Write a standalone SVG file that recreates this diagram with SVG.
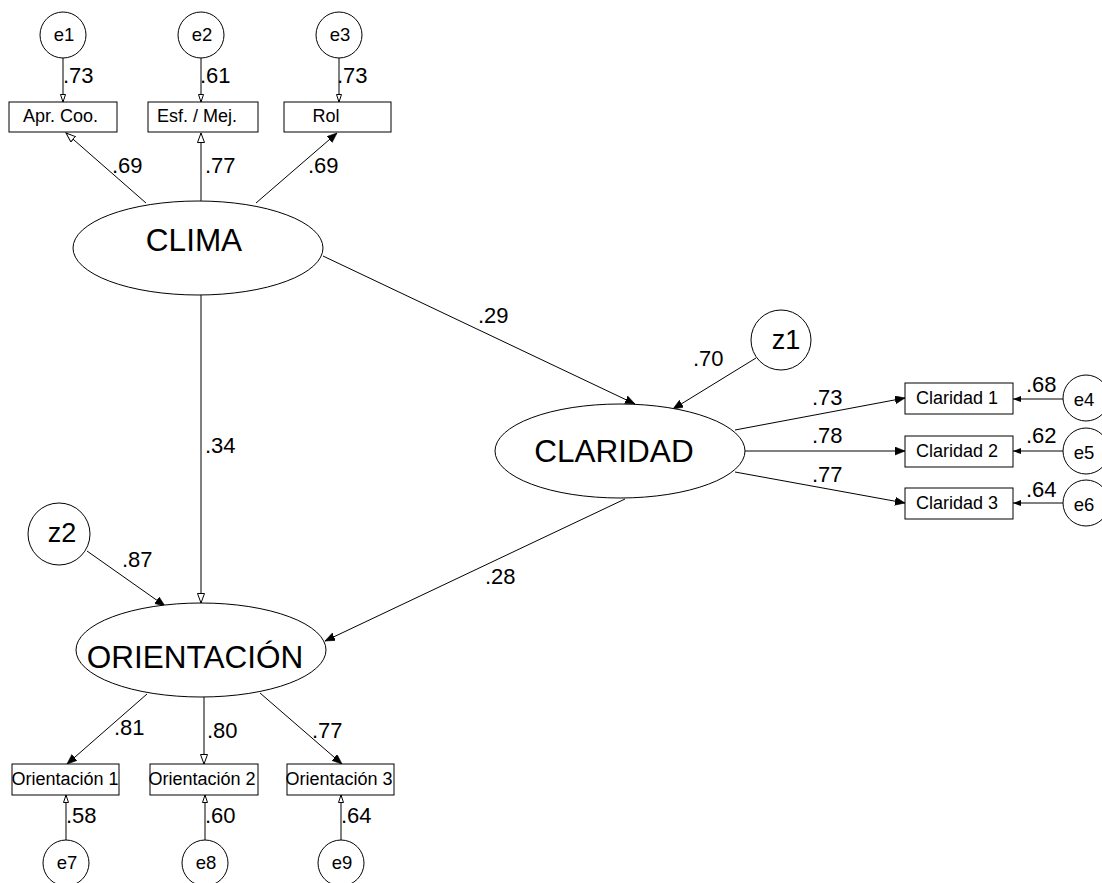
<svg xmlns="http://www.w3.org/2000/svg" width="1102" height="883" viewBox="0 0 1102 883">
  <style>
    .shape { fill: #fff; stroke: #000; stroke-width: 1; }
    .edge { fill: none; stroke: #000; stroke-width: 1; }
    text { font-family: "Liberation Sans", Arial, sans-serif; fill: #000; }
    .latent { font-size: 31.5px; text-anchor: middle; }
    .obs { font-size: 18px; text-anchor: middle; }
    .err { font-size: 18.5px; text-anchor: middle; }
    .dist { font-size: 27px; text-anchor: middle; }
    .coef { font-size: 22px; }
  </style>
  <defs>
    <marker id="solid" markerUnits="userSpaceOnUse" markerWidth="12" markerHeight="10" refX="10" refY="4" orient="auto">
      <path d="M0,0 L10,4 L0,8 z" fill="#000" stroke="#000" stroke-width="0.6"/>
    </marker>
    <marker id="open" markerUnits="userSpaceOnUse" markerWidth="12" markerHeight="10" refX="10" refY="4" orient="auto">
      <path d="M0.5,0.5 L10,4 L0.5,7.5 z" fill="#fff" stroke="#000" stroke-width="1"/>
    </marker>
    <marker id="small" markerUnits="userSpaceOnUse" markerWidth="10" markerHeight="8" refX="8" refY="3" orient="auto">
      <path d="M0.5,0.5 L8,3 L0.5,5.5 z" fill="#fff" stroke="#000" stroke-width="1"/>
    </marker>
    <marker id="smallSolid" markerUnits="userSpaceOnUse" markerWidth="10" markerHeight="8" refX="8" refY="3" orient="auto">
      <path d="M0,0 L8,3 L0,6 z" fill="#000"/>
    </marker>
  </defs>
  <rect width="1102" height="883" fill="#fff"/>

  <!-- connectors -->
  <g id="connectors">
    <!-- errors onto CLIMA indicators -->
    <line class="edge" x1="63" y1="58" x2="63" y2="102" marker-end="url(#small)"/>
    <line class="edge" x1="201" y1="58" x2="201" y2="102" marker-end="url(#small)"/>
    <line class="edge" x1="339" y1="58" x2="339" y2="102" marker-end="url(#small)"/>
    <!-- CLIMA loadings -->
    <line class="edge" x1="146" y1="203" x2="66" y2="133" marker-end="url(#open)"/>
    <line class="edge" x1="201" y1="201" x2="201" y2="133" marker-end="url(#open)"/>
    <line class="edge" x1="256" y1="203" x2="337" y2="133" marker-end="url(#solid)"/>
    <!-- structural paths -->
    <line class="edge" x1="323" y1="256" x2="635" y2="404" marker-end="url(#solid)"/>
    <line class="edge" x1="201" y1="295" x2="201" y2="603" marker-end="url(#open)"/>
    <line class="edge" x1="625" y1="499" x2="325" y2="641" marker-end="url(#solid)"/>
    <!-- disturbances -->
    <line class="edge" x1="756" y1="358" x2="673" y2="409" marker-end="url(#solid)"/>
    <line class="edge" x1="87" y1="551" x2="165" y2="606" marker-end="url(#solid)"/>
    <!-- CLARIDAD loadings -->
    <line class="edge" x1="735" y1="430" x2="905" y2="398" marker-end="url(#solid)"/>
    <line class="edge" x1="745" y1="451" x2="905" y2="451" marker-end="url(#solid)"/>
    <line class="edge" x1="735" y1="472" x2="905" y2="503" marker-end="url(#solid)"/>
    <!-- errors onto CLARIDAD indicators -->
    <line class="edge" x1="1063" y1="399" x2="1013" y2="399" marker-end="url(#smallSolid)"/>
    <line class="edge" x1="1063" y1="451" x2="1013" y2="451" marker-end="url(#smallSolid)"/>
    <line class="edge" x1="1063" y1="503" x2="1013" y2="503" marker-end="url(#smallSolid)"/>
    <!-- ORIENTACIÓN loadings -->
    <line class="edge" x1="147" y1="694" x2="67" y2="764" marker-end="url(#solid)"/>
    <line class="edge" x1="204" y1="697" x2="204" y2="764" marker-end="url(#open)"/>
    <line class="edge" x1="260" y1="693" x2="342" y2="764" marker-end="url(#solid)"/>
    <!-- errors onto ORIENTACIÓN indicators -->
    <line class="edge" x1="66" y1="840" x2="66" y2="795" marker-end="url(#small)"/>
    <line class="edge" x1="205" y1="840" x2="205" y2="795" marker-end="url(#small)"/>
    <line class="edge" x1="341" y1="840" x2="341" y2="795" marker-end="url(#small)"/>

    <!-- coefficients -->
    <text class="coef" x="63" y="83">.73</text>
    <text class="coef" x="200" y="83">.61</text>
    <text class="coef" x="337" y="83">.73</text>
    <text class="coef" x="112" y="173">.69</text>
    <text class="coef" x="205" y="173">.77</text>
    <text class="coef" x="308" y="173">.69</text>
    <text class="coef" x="478" y="323">.29</text>
    <text class="coef" x="205" y="453">.34</text>
    <text class="coef" x="693" y="366">.70</text>
    <text class="coef" x="122" y="567">.87</text>
    <text class="coef" x="485" y="584">.28</text>
    <text class="coef" x="812" y="405">.73</text>
    <text class="coef" x="812" y="443">.78</text>
    <text class="coef" x="812" y="482">.77</text>
    <text class="coef" x="1026" y="392">.68</text>
    <text class="coef" x="1026" y="443">.62</text>
    <text class="coef" x="1026" y="497">.64</text>
    <text class="coef" x="114" y="735">.81</text>
    <text class="coef" x="207" y="738">.80</text>
    <text class="coef" x="312" y="738">.77</text>
    <text class="coef" x="66" y="823">.58</text>
    <text class="coef" x="205" y="823">.60</text>
    <text class="coef" x="341" y="823">.64</text>
  </g>

  <!-- latent variables -->
  <g id="clima">
    <ellipse class="shape" cx="198" cy="248" rx="125" ry="47"/>
    <text class="latent" x="194" y="251">CLIMA</text>
  </g>
  <g id="claridad">
    <ellipse class="shape" cx="620" cy="451" rx="125" ry="47"/>
    <text class="latent" x="614" y="462">CLARIDAD</text>
  </g>
  <g id="orientacion">
    <ellipse class="shape" cx="201" cy="650" rx="125" ry="47"/>
    <text class="latent" x="195" y="668">ORIENTACIÓN</text>
  </g>

  <!-- disturbances -->
  <g id="z1">
    <circle class="shape" cx="781" cy="340" r="30"/>
    <text class="dist" x="786" y="349">z1</text>
  </g>
  <g id="z2">
    <circle class="shape" cx="59" cy="534" r="31"/>
    <text class="dist" x="62" y="542">z2</text>
  </g>

  <!-- CLIMA indicators -->
  <g id="apr-coo">
    <rect class="shape" x="9" y="102" width="108" height="30"/>
    <text class="obs" x="60.5" y="122">Apr. Coo.</text>
  </g>
  <g id="esf-mej">
    <rect class="shape" x="148" y="102" width="110" height="30"/>
    <text class="obs" x="197" y="122">Esf. / Mej.</text>
  </g>
  <g id="rol">
    <rect class="shape" x="284" y="102" width="107" height="30"/>
    <text class="obs" x="326" y="122">Rol</text>
  </g>

  <!-- CLARIDAD indicators -->
  <g id="claridad-1">
    <rect class="shape" x="905" y="383" width="108" height="31"/>
    <text class="obs" x="957" y="404">Claridad 1</text>
  </g>
  <g id="claridad-2">
    <rect class="shape" x="905" y="436" width="108" height="31"/>
    <text class="obs" x="957" y="457">Claridad 2</text>
  </g>
  <g id="claridad-3">
    <rect class="shape" x="905" y="488" width="108" height="31"/>
    <text class="obs" x="957" y="509">Claridad 3</text>
  </g>

  <!-- ORIENTACIÓN indicators -->
  <g id="orientacion-1">
    <rect class="shape" x="12" y="764" width="107" height="31"/>
    <text class="obs" x="65" y="785">Orientación 1</text>
  </g>
  <g id="orientacion-2">
    <rect class="shape" x="150" y="764" width="108" height="31"/>
    <text class="obs" x="202" y="785">Orientación 2</text>
  </g>
  <g id="orientacion-3">
    <rect class="shape" x="287" y="764" width="107" height="31"/>
    <text class="obs" x="339" y="785">Orientación 3</text>
  </g>

  <!-- measurement errors -->
  <g id="e1"><circle class="shape" cx="63" cy="35" r="23"/><text class="err" x="64" y="41">e1</text></g>
  <g id="e2"><circle class="shape" cx="201" cy="35" r="23"/><text class="err" x="202" y="41">e2</text></g>
  <g id="e3"><circle class="shape" cx="339" cy="35" r="23"/><text class="err" x="340" y="41">e3</text></g>
  <g id="e4"><circle class="shape" cx="1086" cy="398" r="23"/><text class="err" x="1084" y="406">e4</text></g>
  <g id="e5"><circle class="shape" cx="1086" cy="451" r="23"/><text class="err" x="1084" y="459">e5</text></g>
  <g id="e6"><circle class="shape" cx="1086" cy="503" r="23"/><text class="err" x="1084" y="511">e6</text></g>
  <g id="e7"><circle class="shape" cx="66" cy="863" r="23"/><text class="err" x="67" y="869">e7</text></g>
  <g id="e8"><circle class="shape" cx="205" cy="863" r="23"/><text class="err" x="206" y="869">e8</text></g>
  <g id="e9"><circle class="shape" cx="341" cy="863" r="23"/><text class="err" x="342" y="869">e9</text></g>
</svg>
